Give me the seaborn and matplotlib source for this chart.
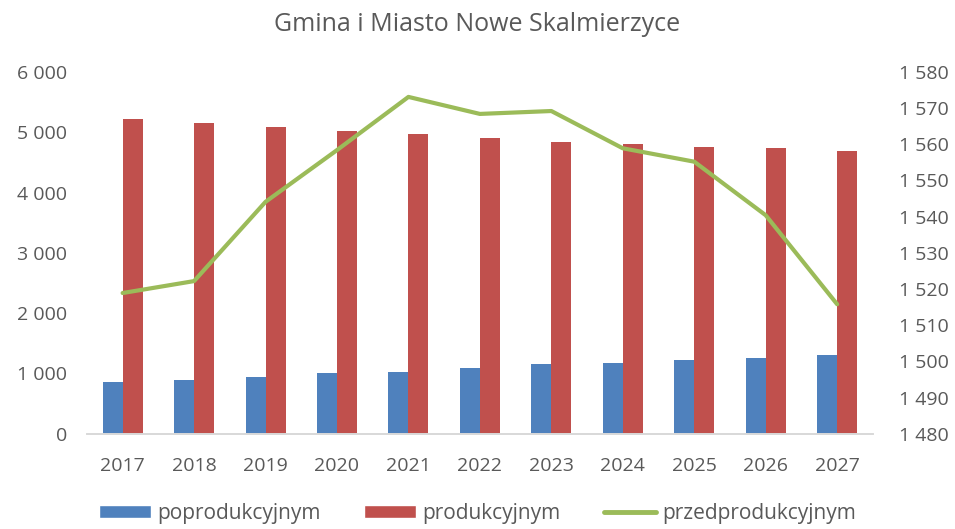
import matplotlib
matplotlib.use("Agg")
import matplotlib.pyplot as plt
import matplotlib.ticker as mticker
from matplotlib.patches import Patch
from matplotlib.lines import Line2D
import pandas as pd
import numpy as np
import seaborn as sns

# data
years = ["2017", "2018", "2019", "2020", "2021", "2022", "2023", "2024", "2025", "2026", "2027"]
poprodukcyjnym = [858, 898, 942, 1008, 1025, 1091, 1157, 1174, 1218, 1263, 1301]
produkcyjnym = [5213, 5158, 5092, 5026, 4964, 4898, 4837, 4798, 4754, 4732, 4688]
przedprodukcyjnym = [1518.9, 1522.2, 1544.1, 1558.4, 1573.1, 1568.4, 1569.2, 1558.9, 1555.2, 1540.4, 1515.8]

blue = "#4F81BD"
red = "#C0504D"
green = "#9BBB59"
grey = "#595959"

sns.set_theme(style="white")
plt.rcParams['font.family'] = ['Open Sans', 'DejaVu Sans']

bars = pd.DataFrame({
    "rok": years * 2,
    "wartosc": poprodukcyjnym + produkcyjnym,
    "grupa": ["poprodukcyjnym"] * len(years) + ["produkcyjnym"] * len(years),
})

fig = plt.figure(figsize=(9.55, 5.29), dpi=100)
ax = fig.add_axes([0.091, 0.18, 0.823, 0.684])

sns.barplot(data=bars, x="rok", y="wartosc", hue="grupa", palette=[blue, red], saturation=1,
            width=0.56, linewidth=0, ax=ax, legend=False)
ax.set_ylim(0, 6000)
ax.set_xlim(-0.5, len(years) - 0.5)
ax.set_xlabel("")
ax.set_ylabel("")

ax2 = ax.twinx()
sns.lineplot(x=np.arange(len(years)), y=przedprodukcyjnym, color=green, linewidth=3, ax=ax2)
ax2.set_ylim(1480, 1580)
ax2.set_xlim(-0.5, len(years) - 0.5)

fmt = mticker.FuncFormatter(lambda v, p: f"{int(v):,}".replace(",", " "))
ax.yaxis.set_major_locator(mticker.MultipleLocator(1000))
ax.yaxis.set_major_formatter(fmt)
ax2.yaxis.set_major_locator(mticker.MultipleLocator(10))
ax2.yaxis.set_major_formatter(fmt)

for a in (ax, ax2):
    for s in ("top", "left", "right"):
        a.spines[s].set_visible(False)
    a.spines["bottom"].set_color("#D9D9D9")
ax.tick_params(axis="y", length=0, pad=14, labelsize=14, labelcolor=grey)
ax.tick_params(axis="x", length=0, pad=17, labelsize=14, labelcolor=grey)
ax2.tick_params(axis="y", length=0, pad=19, labelsize=14, labelcolor=grey)

fig.suptitle("Gmina i Miasto Nowe Skalmierzyce", y=0.978, fontsize=18, color=grey)

handles = [Patch(facecolor=blue), Patch(facecolor=red), Line2D([], [], color=green, linewidth=3.5)]
labels = ["poprodukcyjnym", "produkcyjnym", "przedprodukcyjnym"]
fig.legend(handles, labels, loc="center", bbox_to_anchor=(0.5, 0.03), ncol=3, frameon=False,
           fontsize=15, labelcolor=grey, handlelength=2.5, handleheight=0.6,
           columnspacing=2.1, handletextpad=0.3, borderpad=0.2)

plt.savefig("out.png", dpi=100)
